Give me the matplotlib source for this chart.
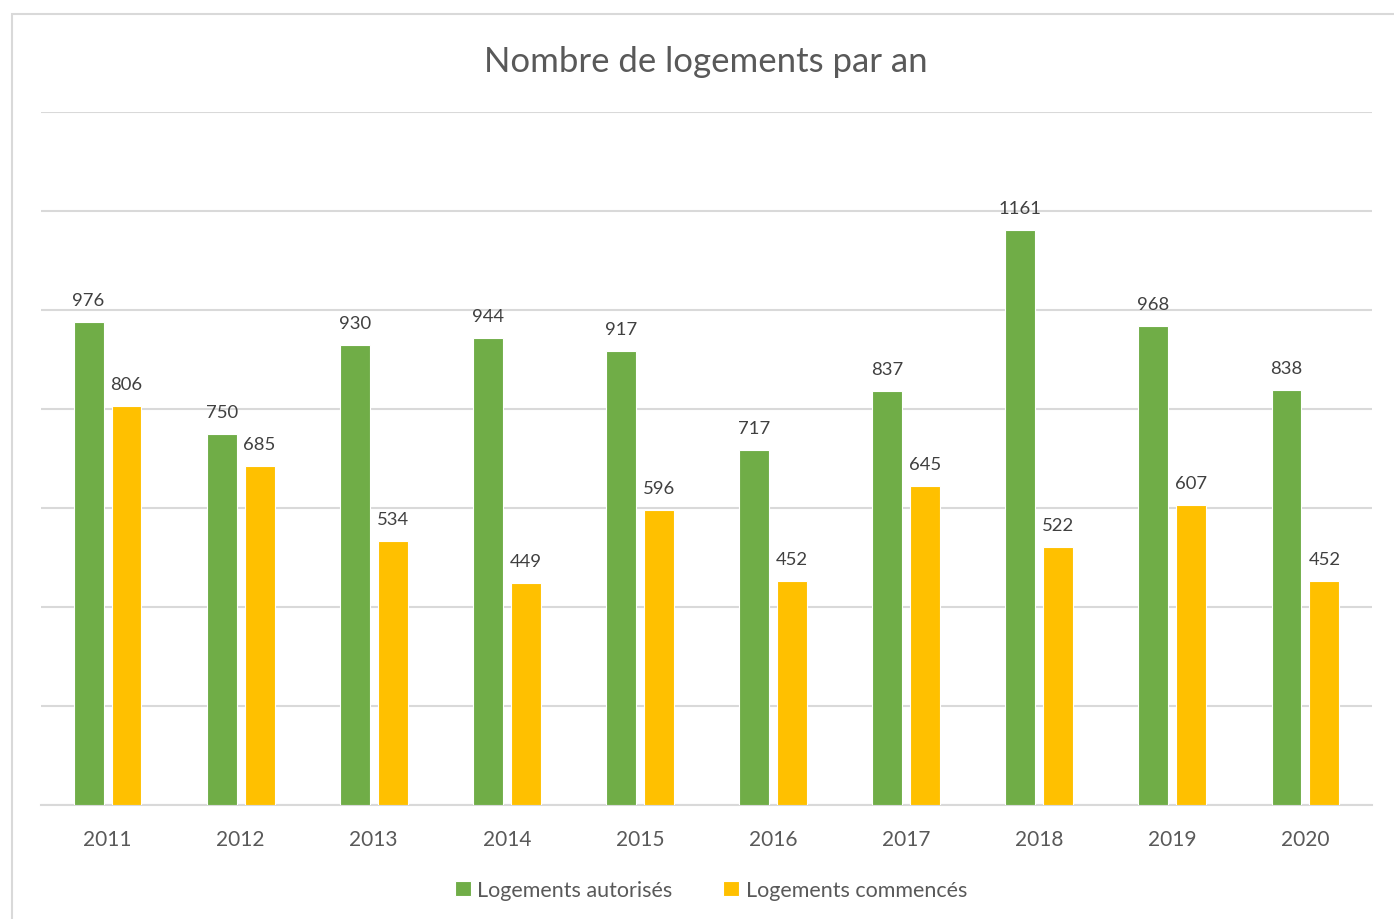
import matplotlib.pyplot as plt
import numpy as np
from matplotlib.patches import Rectangle

annees = ['2011', '2012', '2013', '2014', '2015', '2016', '2017', '2018', '2019', '2020']
autorises = [976, 750, 930, 944, 917, 717, 837, 1161, 968, 838]
commences = [806, 685, 534, 449, 596, 452, 645, 522, 607, 452]

vert = '#70AD47'
jaune = '#FFC000'
gris = '#595959'

plt.rcParams['font.family'] = ['Lato', 'DejaVu Sans']

fig = plt.figure(figsize=(13.94, 9.2), dpi=100)
# cadre gris autour du graphique
fig.patches.append(Rectangle((12 / 1394, -0.01), 1.1, 1 - 15 / 920 + 0.01,
                             transform=fig.transFigure, fill=False,
                             edgecolor='#D9D9D9', linewidth=1.5))

ax = fig.add_axes([41 / 1394, 1 - 806 / 920, (1372 - 41) / 1394, (806 - 113) / 920])

x = np.arange(len(annees))
w = 0.225
g = 0.06
b1 = ax.bar(x - (w + g) / 2, autorises, w, color=vert, edgecolor='white', linewidth=0.8,
            label='Logements autorisés', zorder=3)
b2 = ax.bar(x + (w + g) / 2, commences, w, color=jaune, edgecolor='white', linewidth=0.8,
            label='Logements commencés', zorder=3)

for bars in (b1, b2):
    for r in bars:
        ax.text(r.get_x() + r.get_width() / 2, r.get_height() + 28, str(int(r.get_height())),
                ha='center', va='bottom', fontsize=13.3, color='#404040')

ax.set_xlim(-0.5, len(annees) - 0.5)
ax.set_ylim(0, 1400)
ax.set_yticks(np.arange(0, 1401, 200))
ax.set_yticklabels([])
ax.tick_params(axis='y', length=0)
ax.grid(axis='y', color='#D9D9D9', linewidth=1.5, zorder=0)
ax.set_xticks(x)
ax.set_xticklabels(annees, fontsize=15, color=gris)
ax.tick_params(axis='x', length=0, pad=17)
for s in ['top', 'right', 'left']:
    ax.spines[s].set_visible(False)
ax.spines['bottom'].set_color('#D9D9D9')
ax.spines['bottom'].set_linewidth(1.5)

fig.text(706 / 1394, 1 - 62 / 920, 'Nombre de logements par an', ha='center', va='center',
         fontsize=25, color=gris)

fig.legend(loc='center', bbox_to_anchor=(711 / 1394, 1 - 891 / 920), ncol=2, frameon=False,
           fontsize=15.5, labelcolor=gris, handlelength=0.75, handleheight=0.75,
           handletextpad=0.3, columnspacing=2.35)

fig.savefig('out.png', dpi=100)
